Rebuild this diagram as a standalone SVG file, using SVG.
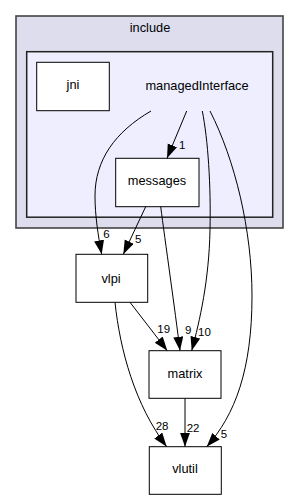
<svg xmlns="http://www.w3.org/2000/svg" width="299" height="500" viewBox="0 0 299 500">
<style>
.node{fill:#ffffff;stroke:#000000;stroke-width:1}
.t{font-family:"Liberation Sans",Arial,sans-serif;font-size:12.8px;fill:#000000;text-anchor:middle}
.lbl{font-family:"Liberation Sans",Arial,sans-serif;font-size:11.5px;fill:#000000}
.e{fill:none;stroke:#000000;stroke-width:1}
</style>
<defs>
<marker id="arr" markerUnits="userSpaceOnUse" markerWidth="15" markerHeight="11" refX="14" refY="5" orient="auto">
<path d="M0,0 L14,5 L0,10 z" fill="#000000"/>
</marker>
</defs>
<rect width="299" height="500" fill="#ffffff"/>
<g id="cluster_include">
<rect x="16" y="16" width="267" height="212" fill="#ddddee" stroke="#444444" stroke-width="1.6"/>
<text class="t" x="150" y="32">include</text>
</g>
<g id="cluster_managedInterface">
<rect x="26.7" y="51.7" width="246" height="165.5" fill="#eeeeff" stroke="#222222" stroke-width="1.5"/>
<text class="t" x="197" y="89.5">managedInterface</text>
</g>
<g id="node_jni">
<rect class="node" x="36.7" y="62.3" width="72.6" height="48.4"/>
<text class="t" x="73" y="88.5">jni</text>
</g>
<g id="node_messages">
<rect class="node" x="115.7" y="158.3" width="83.3" height="48.4"/>
<text class="t" x="157" y="185.3">messages</text>
</g>
<g id="node_vlpi">
<rect class="node" x="76" y="254.3" width="71.7" height="48"/>
<text class="t" x="111" y="282.7">vlpi</text>
</g>
<g id="node_matrix">
<rect class="node" x="149" y="350.7" width="72" height="47.6"/>
<text class="t" x="185" y="378.3">matrix</text>
</g>
<g id="node_vlutil">
<rect class="node" x="149.3" y="446.7" width="72" height="47.6"/>
<text class="t" x="185" y="473.3">vlutil</text>
</g>
<g id="edges">
<path class="e" marker-end="url(#arr)" d="M186.7,111 L167,158.3"/>
<text class="lbl" x="179" y="149">1</text>
<path class="e" marker-end="url(#arr)" d="M151,111 C115,132 95,160 95,196 C95,215 98,235 101.7,254.3"/>
<text class="lbl" x="103.3" y="237.7">6</text>
<path class="e" marker-end="url(#arr)" d="M145.7,206.7 L123.3,254.3"/>
<text class="lbl" x="135" y="243.3">5</text>
<path class="e" marker-end="url(#arr)" d="M160.7,206.7 C165,240 175,310 180,350.7"/>
<text class="lbl" x="185" y="334">9</text>
<path class="e" marker-end="url(#arr)" d="M202.3,111 C208,140 211,185 210,230 C209,280 200,320 191.7,350.7"/>
<text class="lbl" x="198" y="336">10</text>
<path class="e" marker-end="url(#arr)" d="M210,111 C235,160 252,230 252,296 C252,370 235,415 206.7,446.7"/>
<text class="lbl" x="220.7" y="438.3">5</text>
<path class="e" marker-end="url(#arr)" d="M130,302.3 L167.3,350.7"/>
<text class="lbl" x="157.3" y="333">19</text>
<path class="e" marker-end="url(#arr)" d="M115,302.3 C120,350 135,405 166.7,446.7"/>
<text class="lbl" x="155.7" y="430">28</text>
<path class="e" marker-end="url(#arr)" d="M185,398.3 L185,446.7"/>
<text class="lbl" x="186.7" y="431.7">22</text>
</g>
</svg>
